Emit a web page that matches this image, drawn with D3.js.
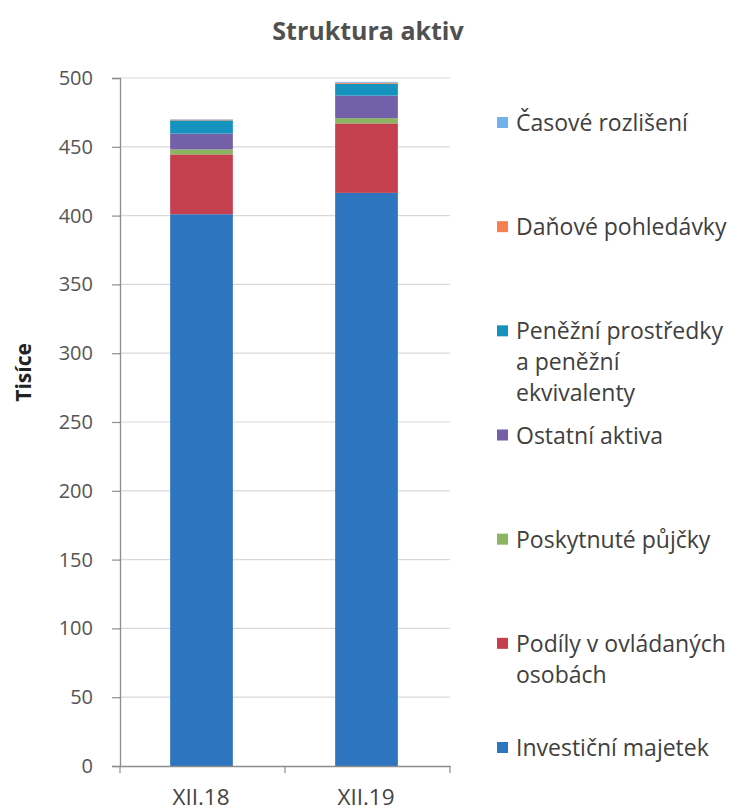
<!DOCTYPE html>
<html>
<head>
<meta charset="utf-8">
<script src="https://cdn.jsdelivr.net/npm/d3@7"></script>
<style>
  body { margin: 0; background: #fff; }
  text { font-family: "Open Sans", sans-serif; }
</style>
</head>
<body>
<svg id="chart"></svg>
<script>
// categories and series (values in thousands)
let categories = ['XII.18', 'XII.19']
let seriesNames = ['Investiční majetek', 'Podíly v ovládaných\nosobách', 'Poskytnuté půjčky',
    'Ostatní aktiva', 'Peněžní prostředky\na peněžní\nekvivalenty', 'Daňové pohledávky', 'Časové rozlišení']
let investicni = [401, 416.5]
let podily = [43.5, 50.5]
let pujcky = [3.6, 3.8]
let ostatni = [11.5, 16.4]
let penezni = [9.6, 8.6]
let danove = [0.5, 0.8]
let casove = [0.3, 0.6]
let yTicks = [0, 50, 100, 150, 200, 250, 300, 350, 400, 450, 500]

let colors = ['#2e75c0', '#c5404f', '#8bb560', '#7360a8', '#1592bd', '#f5814e', '#72b2ea']

let w = 730, h = 811
let m = {t: 78, r: 280, b: 45, l: 120}

let svg = d3.select('#chart').attr('width', w).attr('height', h)

let rows = categories.map((c, i) => ({
    cat: c,
    s0: investicni[i], s1: podily[i], s2: pujcky[i], s3: ostatni[i],
    s4: penezni[i], s5: danove[i], s6: casove[i]
}))
let keys = seriesNames.map((d, i) => 's' + i)
let stacked = d3.stack().keys(keys)(rows)

let x = d3.scaleBand().domain(categories).range([m.l, w - m.r])
let y = d3.scaleLinear().domain([0, 500]).range([h - m.b, m.t])
let barW = x.bandwidth() * 0.38

// gridlines
svg.append('g')
    .selectAll('line')
    .data(yTicks.slice(1))
    .join('line')
    .attr('x1', m.l).attr('x2', w - m.r)
    .attr('y1', d => y(d)).attr('y2', d => y(d))
    .attr('stroke', '#d9d9d9').attr('stroke-width', 1.2)

// bars
svg.append('g')
    .selectAll('g')
    .data(stacked)
    .join('g')
    .attr('fill', (d, i) => colors[i])
    .selectAll('rect')
    .data(d => d)
    .join('rect')
    .attr('x', d => x(d.data.cat) + (x.bandwidth() - barW) / 2 - 1)
    .attr('width', barW)
    .attr('y', d => y(d[1]))
    .attr('height', d => y(d[0]) - y(d[1]))

// y axis
let yAxis = svg.append('g')
    .attr('transform', `translate(${m.l}, 0)`)
    .call(d3.axisLeft(y).tickValues(yTicks).tickSize(8).tickPadding(19))
yAxis.select('.domain').attr('stroke', '#8c8c8c').attr('stroke-width', 1.3)
yAxis.selectAll('.tick line').attr('stroke', '#8c8c8c').attr('stroke-width', 1.2)
yAxis.selectAll('.tick text').attr('font-size', 20).attr('fill', '#555').attr('font-family', '"Open Sans", sans-serif')

// x axis
let xAxis = svg.append('g')
    .attr('transform', `translate(0, ${h - m.b})`)
    .call(d3.axisBottom(x).tickSize(0).tickPadding(23))
xAxis.select('.domain').attr('stroke', '#8c8c8c').attr('stroke-width', 1.3)
xAxis.selectAll('.tick text').attr('font-size', 22.5).attr('fill', '#444').attr('font-family', '"Open Sans", sans-serif')
xAxis.selectAll('.tick').attr('transform', d => `translate(${x(d) + x.bandwidth() / 2 - 1.5}, 0)`)
xAxis.append('g')
    .selectAll('line')
    .data([m.l, x(categories[1]), w - m.r])
    .join('line')
    .attr('x1', d => d).attr('x2', d => d)
    .attr('y1', 0).attr('y2', 7)
    .attr('stroke', '#8c8c8c').attr('stroke-width', 1.2)

// title and axis label
svg.append('text')
    .attr('x', 368).attr('y', 40)
    .attr('text-anchor', 'middle')
    .attr('font-size', 25).attr('font-weight', 'bold').attr('fill', '#505050')
    .text('Struktura aktiv')

svg.append('text')
    .attr('transform', `translate(31, ${y(286)}) rotate(-90)`)
    .attr('text-anchor', 'middle')
    .attr('font-size', 21).attr('font-weight', 'bold').attr('fill', '#222')
    .text('Tisíce')

// legend, top to bottom in reverse order
let legendY = d3.scalePoint().domain(d3.range(7)).range([123, 748])
let legend = svg.append('g')
    .selectAll('g')
    .data(seriesNames.map((n, i) => ({name: n, i})).reverse())
    .join('g')
    .attr('transform', (d, j) => `translate(497, ${legendY(j)})`)

legend.append('rect')
    .attr('x', 0).attr('y', -6).attr('width', 11).attr('height', 11)
    .attr('fill', d => colors[d.i])

legend.append('text')
    .attr('x', 19).attr('y', 8)
    .attr('font-size', 23).attr('fill', '#404040')
    .selectAll('tspan')
    .data(d => d.name.split('\n'))
    .join('tspan')
    .attr('x', 19)
    .attr('dy', (d, k) => k ? 31 : 0)
    .text(d => d)
</script>
</body>
</html>
